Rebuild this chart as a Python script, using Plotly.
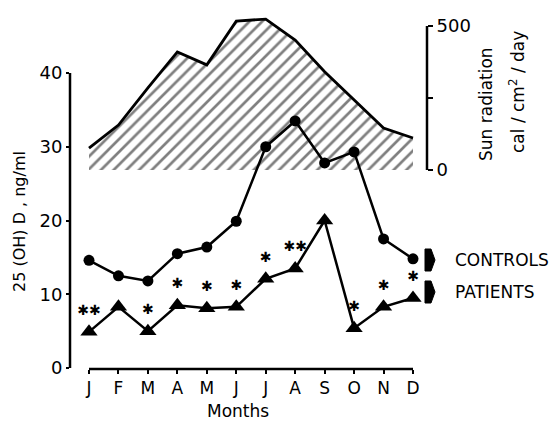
import plotly.graph_objects as go

months = ["J", "F", "M", "A", "M", "J", "J", "A", "S", "O", "N", "D"]
controls = [14.6, 12.5, 11.8, 15.5, 16.4, 19.9, 30.0, 33.5, 27.8, 29.3, 17.5, 14.8]
patients = [4.9, 8.3, 5.0, 8.5, 8.1, 8.3, 12.1, 13.5, 20.0, 5.4, 8.3, 9.5]
stars = ["✱✱", "", "✱", "✱", "✱", "✱", "✱", "✱✱", "", "✱", "✱", "✱"]
sun = [76, 156, 285, 410, 365, 517, 524, 451, 341, 243, 146, 111]
left_ticks = [0, 10, 20, 30, 40]
right_ticks = [0, 500]
right_minor = [250]

FONT = "DejaVu Sans"
W_FIG, H_FIG = 560, 421
L, R, T, B = 70, 427, 10, 369
PW, PH = R - L, B - T


def px(p):
    return (p - L) / PW


def py(p):
    return (B - p) / PH


xi = list(range(len(months)))
star_x = [i for i, s in enumerate(stars) if s]
star_y = [patients[i] for i in star_x]
star_t = [stars[i] for i in star_x]

fig = go.Figure()

fig.add_trace(go.Scatter(
    x=xi, y=sun, yaxis="y", mode="lines",
    line=dict(color="black", width=2.8),
    fill="tozeroy", fillcolor="white",
    fillpattern=dict(shape="/", fgcolor="black", bgcolor="white", size=9, solidity=0.3),
    showlegend=False, hoverinfo="skip",
))

fig.add_trace(go.Scatter(
    x=xi, y=controls, yaxis="y2", mode="lines+markers",
    line=dict(color="black", width=2.5),
    marker=dict(symbol="circle", size=11, color="black"),
    showlegend=False,
))

fig.add_trace(go.Scatter(
    x=xi, y=patients, yaxis="y2", mode="lines+markers",
    line=dict(color="black", width=2.5),
    marker=dict(symbol="triangle-up", size=15, color="black"),
    showlegend=False,
))

fig.add_trace(go.Scatter(
    x=star_x, y=star_y, yaxis="y2", mode="markers+text",
    marker=dict(size=20, opacity=0, color="white"),
    text=star_t, textposition="top center",
    textfont=dict(family=FONT, size=14, color="black"),
    showlegend=False, hoverinfo="skip",
))

shapes = [
    dict(type="line", xref="paper", yref="y2", x0=0, x1=0, y0=0, y1=40,
         line=dict(color="black", width=2.5)),
    dict(type="line", xref="x", yref="paper", x0=0, x1=11, y0=0, y1=0,
         line=dict(color="black", width=2.5)),
    dict(type="line", xref="paper", yref="y", x0=1, x1=1, y0=0, y1=500,
         line=dict(color="black", width=2.5)),
]


def sym_path(cx, cy):
    pts = [(cx - 5, cy - 11), (cx + 1, cy - 11), (cx + 5, cy), (cx + 1, cy + 11), (cx - 5, cy + 11)]
    return "M " + " L ".join(f"{px(a):.5f},{py(b):.5f}" for a, b in pts) + " Z"


for cy in (260, 292):
    shapes.append(dict(type="path", xref="paper", yref="paper", path=sym_path(430, cy),
                       fillcolor="black", line=dict(color="black", width=1)))

annotations = [
    dict(text="CONTROLS", x=px(453), y=py(260), xref="paper", yref="paper",
         xanchor="left", yanchor="middle", showarrow=False,
         font=dict(family=FONT, size=17, color="black")),
    dict(text="PATIENTS", x=px(453), y=py(292), xref="paper", yref="paper",
         xanchor="left", yanchor="middle", showarrow=False,
         font=dict(family=FONT, size=17, color="black")),
    dict(text="Months", x=px(238), y=py(411), xref="paper", yref="paper",
         xanchor="center", yanchor="middle", showarrow=False,
         font=dict(family=FONT, size=17, color="black")),
    dict(text="25 (OH) D , ng/ml", x=px(19), y=py(222), xref="paper", yref="paper",
         xanchor="center", yanchor="middle", showarrow=False, textangle=-90,
         font=dict(family=FONT, size=16, color="black")),
    dict(text="Sun radiation", x=px(486), y=py(104), xref="paper", yref="paper",
         xanchor="center", yanchor="middle", showarrow=False, textangle=-90,
         font=dict(family=FONT, size=17, color="black")),
    dict(text="cal / cm<sup>2</sup> / day", x=px(517), y=py(92), xref="paper", yref="paper",
         xanchor="center", yanchor="middle", showarrow=False, textangle=-90,
         font=dict(family=FONT, size=17, color="black")),
]

fig.update_layout(
    width=W_FIG, height=H_FIG,
    margin=dict(l=L, r=W_FIG - R, t=T, b=H_FIG - B, pad=0),
    paper_bgcolor="white", plot_bgcolor="white",
    font=dict(family=FONT, color="black"),
    xaxis=dict(range=[-(89 - L) / 29.45, 11 + (R - 413) / 29.45],
               tickvals=xi, ticktext=months, ticks="outside", ticklen=4, tickwidth=1.5,
               tickcolor="black", showline=False, showgrid=False, zeroline=False,
               tickfont=dict(family=FONT, size=17)),
    yaxis=dict(range=[-(B - 170) / 0.288, (170 - T) / 0.288], side="right",
               tickvals=right_ticks, ticks="outside", ticklen=5,
               tickwidth=1.5, tickcolor="black", showline=False, showgrid=False,
               zeroline=False, tickfont=dict(family=FONT, size=18),
               minor=dict(tickvals=right_minor, ticks="outside", ticklen=5,
                          tickwidth=1.5, tickcolor="black", showgrid=False)),
    yaxis2=dict(range=[-(B - 368) / 7.375, (368 - T) / 7.375], overlaying="y", side="left",
                tickvals=left_ticks, ticks="outside", ticklen=3, tickwidth=1.5,
                tickcolor="black", showline=False, showgrid=False, zeroline=False,
                tickfont=dict(family=FONT, size=18)),
    shapes=shapes, annotations=annotations,
)

fig.write_html("out.html")
